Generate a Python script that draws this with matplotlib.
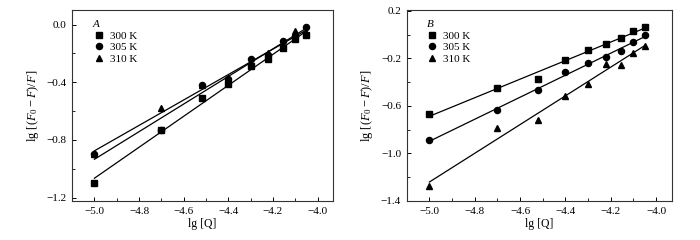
import numpy as np
import matplotlib
matplotlib.use("Agg")
import matplotlib.pyplot as plt
from matplotlib.ticker import MultipleLocator

plt.rcParams["font.family"] = "Liberation Serif"
plt.rcParams["font.size"] = 8
plt.rcParams["mathtext.fontset"] = "custom"
plt.rcParams["mathtext.rm"] = "Liberation Serif"
plt.rcParams["mathtext.it"] = "Liberation Serif:italic"

# lg[Q] for 1..9 x 1e-5 mol/L
lgq = [-5.0, -4.70, -4.52, -4.40, -4.30, -4.22, -4.155, -4.10, -4.05]
labels = ["300 K", "305 K", "310 K"]

# panel A
a_300 = [-1.10, -0.73, -0.51, -0.415, -0.29, -0.24, -0.165, -0.10, -0.076]
a_305 = [-0.90, -0.73, -0.42, -0.38, -0.24, -0.21, -0.115, -0.08, -0.016]
a_310 = [-0.90, -0.58, -0.42, -0.37, -0.27, -0.20, -0.14, -0.044, -0.06]

# panel B
b_300 = [-0.667, -0.448, -0.370, -0.215, -0.131, -0.083, -0.025, 0.029, 0.06]
b_305 = [-0.886, -0.636, -0.468, -0.316, -0.243, -0.185, -0.137, -0.061, 0.0]
b_310 = [-1.277, -0.782, -0.72, -0.516, -0.412, -0.249, -0.252, -0.151, -0.092]

markers = ["s", "o", "^"]
msizes = [3.8, 4.4, 4.6]

fig = plt.figure(figsize=(7, 2.4), dpi=100)
axA = fig.add_axes([0.103, 0.1625, 0.373, 0.7955])
axB = fig.add_axes([0.581, 0.1625, 0.379, 0.7955])


def draw(ax, series, tag, ylim, yticks, lx):
    x = np.array(lgq)
    for ys, m, ms, lab in zip(series, markers, msizes, labels):
        ax.plot(x, ys, ls="none", marker=m, ms=ms, color="black", label=lab)
        k, b = np.polyfit(x, ys, 1)
        ax.plot([x[0], x[-1]], [k * x[0] + b, k * x[-1] + b], color="black", lw=0.9)
    ax.set_xlim(-5.10, -3.93)
    ax.set_ylim(*ylim)
    ax.set_xticks([-5.0, -4.8, -4.6, -4.4, -4.2, -4.0])
    ax.set_xticklabels(["\u22125.0", "\u22124.8", "\u22124.6", "\u22124.4", "\u22124.2", "\u22124.0"])
    ax.xaxis.set_minor_locator(MultipleLocator(0.1))
    ax.set_yticks(yticks)
    ax.set_yticklabels([("%.1f" % v).replace("-", "\u2212") for v in yticks])
    ax.yaxis.set_minor_locator(MultipleLocator(0.2))
    ax.tick_params(which="both", direction="in", top=False, right=False)
    ax.tick_params(which="major", length=3, width=0.7, pad=4)
    ax.tick_params(which="minor", length=2, width=0.6)
    for s in ax.spines.values():
        s.set_linewidth(0.8)
        s.set_color("#333333")
    ax.set_xlabel("lg [Q]", labelpad=2, fontsize=8.5)
    ax.set_ylabel(r"lg [($F_0 - F$)/$F$]", labelpad=4, fontsize=9)
    ax.text(0.09, 0.925, tag, transform=ax.transAxes, style="italic", ha="center", va="center")
    ax.legend(loc="upper left", bbox_to_anchor=(lx, 0.89), frameon=False,
              handlelength=0.8, handletextpad=0.6, labelspacing=0.15, borderpad=0,
              borderaxespad=0)


draw(axA, [a_300, a_305, a_310], "A", (-1.223, 0.1), [0.0, -0.4, -0.8, -1.2], 0.085)
draw(axB, [b_300, b_305, b_310], "B", (-1.40, 0.206), [0.2, -0.2, -0.6, -1.0, -1.4], 0.08)

fig.savefig("out.png", dpi=100)
